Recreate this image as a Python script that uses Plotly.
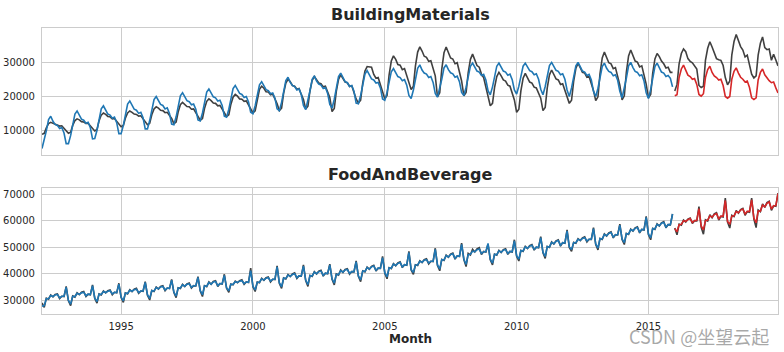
import pandas as pd
import plotly.graph_objects as go

# ---------------- data ----------------
months_train = pd.date_range("1992-01-01", "2015-12-01", freq="MS")
months_test = pd.date_range("2016-01-01", "2019-12-01", freq="MS")

year_ticks = ["1995-01-01", "2000-01-01", "2005-01-01", "2010-01-01", "2015-01-01"]
year_labels = ["1995", "2000", "2005", "2010", "2015"]
bm_yticks = [10000, 20000, 30000]
fb_yticks = [30000, 40000, 50000, 60000, 70000]

# BuildingMaterials: actual (train period)
bm_actual_train = [
    9000, 9300, 10900, 12100, 12500, 12200, 11800, 11700, 11400, 11500, 10800, 10200,
    9300, 9600, 11600, 13000, 13500, 13200, 12700, 12600, 12200, 12200, 11500, 10800,
    10000, 10400, 12900, 14600, 15200, 14800, 14200, 14100, 13500, 13600, 12700, 11800,
    11200, 11600, 13700, 15200, 15800, 15400, 14900, 14800, 14300, 14400, 13600, 12800,
    11800, 12200, 14700, 16400, 17000, 16600, 16000, 15900, 15300, 15400, 14500, 13600,
    12100, 12600, 15500, 17600, 18300, 17800, 17100, 17000, 16300, 16400, 15300, 14300,
    13100, 13600, 16500, 18600, 19300, 18800, 18100, 18000, 17300, 17400, 16300, 15300,
    14200, 14700, 17700, 19800, 20600, 20100, 19300, 19200, 18600, 18700, 17500, 16400,
    15200, 15800, 19500, 22100, 23000, 22400, 21400, 21300, 20500, 20700, 19300, 17900,
    15900, 16600, 20900, 23900, 25000, 24300, 23200, 23000, 22100, 22300, 20600, 19100,
    16400, 17200, 21600, 24700, 25800, 25000, 23900, 23700, 22800, 23000, 21300, 19700,
    15600, 16500, 21500, 25000, 26300, 25400, 24200, 24000, 22900, 23100, 21200, 19300,
    18100, 18900, 23900, 27400, 28700, 28600, 28500, 26400, 25300, 25500, 23600, 21800,
    19300, 20300, 26200, 30300, 31800, 30800, 29300, 29100, 27800, 28100, 25800, 23700,
    22000, 23000, 28800, 32900, 34400, 33200, 31700, 31400, 30200, 30400, 28200, 26000,
    19900, 21100, 27900, 32700, 34400, 32900, 31200, 30900, 29500, 29800, 27200, 24500,
    20200, 21200, 26900, 30800, 32300, 30500, 29000, 28500, 26500, 25500, 22800, 20500,
    17300, 18000, 22600, 25800, 27000, 26000, 24800, 24500, 23300, 23000, 21000, 19000,
    15400, 16300, 21600, 25300, 26700, 25600, 24200, 23900, 22700, 22500, 20700, 19500,
    15900, 16800, 22400, 26300, 27700, 26500, 25100, 24800, 23500, 23700, 21800, 19500,
    18000, 18900, 24400, 28200, 29600, 28400, 27000, 26800, 25600, 25800, 23800, 21700,
    18800, 19900, 26600, 31200, 32900, 31500, 29800, 29500, 28100, 28400, 25900, 23300,
    19000, 20200, 27000, 31800, 33500, 32100, 30300, 30000, 28600, 28900, 26300, 23600,
    19600, 20600, 26700, 30900, 32500, 31600, 30300, 29500, 28300, 28500, 27000, 27000,
]

# BuildingMaterials: fitted values (train period)
bm_fit = [
    4900, 7200, 10000, 13300, 14250, 12800, 11900, 11600, 10700, 11000, 9400, 6300,
    6300, 8700, 11500, 14900, 15800, 14400, 13400, 13100, 12200, 12500, 10900, 7700,
    7800, 10200, 13000, 16400, 17300, 15900, 14900, 14600, 13700, 14000, 12400, 9200,
    9200, 11600, 14400, 17800, 18700, 17300, 16300, 16000, 15100, 15400, 13800, 10600,
    10600, 13000, 15800, 19100, 20000, 18600, 17700, 17400, 16400, 16700, 15100, 12000,
    11800, 14100, 16900, 20200, 21100, 19700, 18800, 18500, 17600, 17800, 16300, 13200,
    12900, 15200, 18000, 21300, 22200, 20800, 19900, 19600, 18700, 18900, 17400, 14300,
    14000, 16300, 19100, 22300, 23200, 21800, 20900, 20600, 19700, 20000, 18400, 15400,
    15000, 17300, 20100, 23400, 24300, 22900, 22000, 21700, 20800, 21000, 19500, 16400,
    15900, 18300, 21200, 24600, 25600, 24100, 23200, 22900, 21900, 22200, 20600, 17400,
    16200, 18700, 21600, 25000, 26000, 24500, 23600, 23300, 22300, 22600, 20900, 17700,
    16600, 19200, 22200, 25800, 26800, 25300, 24300, 24000, 22900, 23200, 21500, 18100,
    17900, 20300, 23200, 26500, 27500, 26100, 25100, 24800, 23900, 24100, 22500, 19300,
    18900, 21200, 24000, 27200, 28100, 26700, 25800, 25500, 24600, 24900, 23300, 20300,
    19400, 21900, 24800, 28200, 29200, 27700, 26800, 26500, 25500, 25800, 24100, 20900,
    19800, 22200, 25000, 28300, 29200, 27800, 26900, 26600, 25600, 25900, 24300, 21200,
    20300, 22700, 25500, 28800, 29700, 28300, 27400, 27100, 26100, 26400, 24800, 21700,
    20500, 22800, 25600, 28800, 29700, 28300, 27400, 27100, 26200, 26500, 24900, 21900,
    20700, 23000, 25700, 28800, 29700, 28400, 27500, 27200, 26300, 26600, 25000, 22100,
    20500, 22900, 25700, 29000, 29900, 28500, 27600, 27300, 26300, 26600, 25000, 21900,
    20000, 22500, 25400, 28900, 29900, 28400, 27400, 27100, 26100, 26400, 24800, 21500,
    20000, 22400, 25300, 28700, 29700, 28200, 27300, 27000, 26000, 26300, 24700, 21500,
    19600, 22200, 25300, 28900, 29900, 28400, 27300, 27000, 26000, 26300, 24500, 21100,
    19400, 22000, 25100, 28700, 29700, 28200, 27100, 26800, 25800, 26100, 25300, 22800,
]

# BuildingMaterials: actual (validation period)
bm_actual_test = [
    21600, 23500, 29500, 32500, 33800, 33000, 31000, 30200, 29800, 28900, 28000, 23200,
    22600, 23000, 30500, 34000, 35900, 34400, 32500, 31000, 30700, 30500, 29000, 25500,
    23400, 24500, 32000, 36000, 38000, 36000, 34500, 33500, 31500, 32000, 29500, 26500,
    25400, 26000, 32000, 35500, 37300, 34200, 33600, 33800, 30500, 32300, 30600, 28900,
]

# BuildingMaterials: forecast (validation period)
bm_pred = [
    20200, 20500, 25500, 28000, 29100, 27700, 26200, 25800, 25000, 25200, 23500, 20600,
    20100, 20800, 25500, 27800, 28800, 27000, 26000, 25500, 24800, 25000, 23200, 20000,
    19500, 20000, 25000, 27300, 28300, 26800, 25600, 25000, 24200, 24500, 22600, 19600,
    19100, 19600, 24800, 27000, 28000, 26300, 25300, 24600, 24000, 24200, 22500, 21000,
]

# FoodAndBeverage: actual (train period)
fb_actual_train = [
    29000, 27300, 30800, 30400, 32000, 31300, 32200, 32400, 30600, 31500, 31400, 35200,
    29800, 28000, 31600, 31200, 32800, 32100, 33000, 33300, 31400, 32300, 32100, 35800,
    30700, 28900, 32400, 32000, 33500, 32800, 33600, 33900, 32100, 33000, 32800, 36400,
    31000, 29200, 32800, 32400, 34000, 33300, 34200, 34500, 32600, 33500, 33400, 37000,
    31900, 30100, 33700, 33300, 35000, 34200, 35200, 35500, 33600, 34600, 34400, 37900,
    32900, 31000, 34700, 34400, 36000, 35200, 36200, 36500, 34600, 35500, 35400, 38900,
    33500, 31400, 35500, 35100, 36900, 36000, 37100, 37400, 35200, 36300, 36100, 39800,
    34500, 33000, 36100, 35800, 37200, 36600, 37400, 37700, 36000, 36900, 36700, 42100,
    35100, 33300, 36900, 36600, 38300, 37500, 38500, 38800, 36900, 37900, 37800, 43000,
    36400, 34500, 38400, 38000, 39700, 38900, 39900, 40300, 38200, 39200, 39100, 43300,
    37400, 35200, 39400, 39000, 40800, 39900, 41000, 41300, 39100, 40200, 40000, 43600,
    37900, 35800, 39900, 39500, 41400, 40500, 41600, 41900, 39800, 40800, 40700, 44800,
    39000, 37000, 41100, 40700, 42500, 41700, 42800, 43200, 41000, 42100, 42000, 46500,
    40200, 38100, 42300, 41900, 43800, 43000, 44100, 44500, 42300, 43400, 43200, 48400,
    41400, 39800, 43400, 43100, 44900, 44200, 45300, 45600, 43700, 44700, 44600, 49600,
    43100, 41100, 45400, 45000, 47000, 46200, 47400, 47800, 45500, 46700, 46500, 51500,
    45300, 42700, 47700, 47100, 49200, 48200, 49400, 49800, 47200, 48400, 48200, 51100,
    45300, 43300, 47400, 47000, 48800, 48000, 49100, 49400, 47300, 48400, 48200, 52800,
    46600, 44800, 48800, 48400, 50300, 49500, 50600, 51000, 48900, 50000, 49800, 54000,
    47900, 45800, 50300, 49900, 52000, 51200, 52400, 52800, 50400, 51700, 51500, 56500,
    49900, 48400, 51800, 51500, 53200, 52500, 53500, 53900, 52000, 53000, 52900, 57400,
    51000, 49000, 53300, 52900, 55000, 54200, 55400, 55800, 53500, 54700, 54600, 58700,
    52900, 51000, 55200, 54800, 56800, 56100, 57300, 57700, 55400, 56700, 56500, 61600,
    54800, 52800, 57100, 56700, 58800, 58000, 59200, 59600, 57300, 58500, 58400, 62500,
]

# FoodAndBeverage: fitted values (train period)
fb_fit = [
    27800, 28000, 30600, 30600, 31800, 31400, 32000, 32200, 30900, 31500, 31500, 34900,
    29900, 28600, 31500, 31400, 32600, 32200, 32800, 33000, 31700, 32300, 32200, 35500,
    30900, 29500, 32300, 32200, 33300, 32900, 33400, 33600, 32400, 33000, 32900, 36100,
    31200, 29800, 32700, 32600, 33800, 33400, 34000, 34200, 32900, 33500, 33500, 36700,
    32100, 30700, 33600, 33500, 34800, 34300, 35000, 35200, 33900, 34600, 34500, 37600,
    33100, 31600, 34600, 34600, 35800, 35300, 36000, 36200, 34900, 35500, 35500, 38600,
    33700, 32100, 35400, 35300, 36700, 36100, 36900, 37100, 35500, 36300, 36200, 39400,
    34700, 33600, 36000, 36000, 37000, 36700, 37200, 37400, 36300, 36900, 36800, 41200,
    35300, 33900, 36800, 36800, 38100, 37600, 38300, 38500, 37200, 37900, 37900, 42600,
    36600, 35100, 38300, 38200, 39500, 39000, 39700, 40000, 38500, 39200, 39200, 42900,
    37600, 35900, 39300, 39200, 40600, 40000, 40800, 41000, 39400, 40200, 40100, 43300,
    38100, 36500, 39800, 39700, 41200, 40600, 41400, 41600, 40100, 40800, 40800, 44500,
    39200, 37700, 41000, 40900, 42300, 41800, 42600, 42900, 41300, 42100, 42100, 46100,
    40400, 38800, 42200, 42100, 43600, 43100, 43900, 44200, 42600, 43400, 43300, 48000,
    41600, 40500, 43300, 43300, 44700, 44300, 45100, 45300, 44000, 44700, 44700, 49200,
    43300, 41800, 45300, 45200, 46800, 46300, 47200, 47500, 45800, 46700, 46600, 51100,
    45500, 43500, 47200, 47300, 48500, 48300, 49000, 49300, 47600, 48300, 48300, 51400,
    45500, 44000, 47300, 47200, 48600, 48100, 48900, 49100, 47600, 48400, 48300, 52400,
    46800, 45500, 48700, 48600, 50100, 49600, 50400, 50700, 49200, 50000, 49900, 53600,
    48100, 46500, 50200, 50100, 51800, 51300, 52200, 52500, 50700, 51700, 51600, 56100,
    50100, 49100, 51700, 51700, 53000, 52600, 53300, 53600, 52300, 53000, 53000, 57000,
    51200, 49700, 53200, 53100, 54800, 54300, 55200, 55500, 53800, 54700, 54700, 58300,
    53100, 51700, 55100, 55000, 56600, 56200, 57100, 57400, 55700, 56700, 56600, 61200,
    55000, 53500, 57000, 56900, 58600, 58100, 59000, 59300, 57600, 58500, 58500, 62500,
]

# FoodAndBeverage: actual (validation period)
fb_actual_test = [
    57200, 54700, 58700, 58300, 60200, 59500, 60600, 61000, 58900, 60000, 59900, 65300,
    57500, 54900, 60300, 59800, 62200, 61100, 62600, 63000, 60200, 61600, 61400, 68500,
    59500, 57200, 62000, 61500, 63800, 62800, 64200, 64600, 62000, 63400, 63200, 68500,
    60600, 57400, 64000, 63400, 66300, 65000, 66800, 67300, 63900, 65600, 65400, 70400,
]

# FoodAndBeverage: forecast (validation period)
fb_pred = [
    57000, 55800, 58500, 58600, 60000, 59700, 60400, 60800, 59300, 60000, 60100, 64500,
    58000, 56500, 60000, 60200, 61800, 61300, 62300, 62700, 60700, 61700, 61700, 67600,
    59700, 58600, 61700, 61800, 63400, 63000, 64000, 64400, 62500, 63500, 63500, 67800,
    61000, 59200, 63600, 63600, 65900, 65200, 66500, 67000, 64400, 65600, 65700, 70200,
]

assert len(bm_actual_train) == len(months_train) == len(bm_fit)
assert len(fb_actual_train) == len(months_train) == len(fb_fit)
assert len(bm_actual_test) == len(months_test) == len(bm_pred)
assert len(fb_actual_test) == len(months_test) == len(fb_pred)

# ---------------- styling ----------------
W, H = 784, 352
DARK = "#404040"
BLUE = "#1f77b4"
RED = "#d62728"
GRID = "#cccccc"
TEXT = "#262626"
FONT = "DejaVu Sans"
LW = 1.6

x0, x1 = 42, 778
top_px = (28, 155)
bot_px = (188, 314)


def ydom(px):
    return [1 - px[1] / H, 1 - px[0] / H]


fig = go.Figure()


def add_line(x, y, color, xa, ya):
    fig.add_trace(go.Scatter(x=x, y=y, mode="lines",
                             line=dict(color=color, width=LW),
                             xaxis=xa, yaxis=ya, showlegend=False,
                             hoverinfo="skip"))


# top panel
add_line(months_train, bm_actual_train, DARK, "x", "y")
add_line(months_train, bm_fit, BLUE, "x", "y")
add_line(months_test, bm_actual_test, DARK, "x", "y")
add_line(months_test, bm_pred, RED, "x", "y")
# bottom panel
add_line(months_train, fb_actual_train, DARK, "x2", "y2")
add_line(months_train, fb_fit, BLUE, "x2", "y2")
add_line(months_test, fb_actual_test, DARK, "x2", "y2")
add_line(months_test, fb_pred, RED, "x2", "y2")

xrange = ["1992-01-01", "2019-12-01"]
common_x = dict(range=xrange, showgrid=True, gridcolor=GRID, gridwidth=1,
                showline=True, linecolor=GRID, linewidth=1.2, mirror=True,
                ticks="", tickvals=year_ticks, ticktext=year_labels,
                tickfont=dict(family=FONT, size=10, color=TEXT),
                zeroline=False, domain=[x0 / W, x1 / W])
common_y = dict(showgrid=True, gridcolor=GRID, gridwidth=1,
                showline=True, linecolor=GRID, linewidth=1.2, mirror=True,
                ticks="", tickfont=dict(family=FONT, size=10, color=TEXT),
                zeroline=False, ticklabelstandoff=4)

fig.update_layout(
    width=W, height=H,
    margin=dict(l=0, r=0, t=0, b=0),
    paper_bgcolor="white", plot_bgcolor="white",
    xaxis=dict(common_x, anchor="y", showticklabels=False, matches="x2"),
    yaxis=dict(common_y, domain=ydom(top_px), range=[3000, 39900],
               tickvals=bm_yticks, ticktext=[str(v) for v in bm_yticks], anchor="x"),
    xaxis2=dict(common_x, anchor="y2", showticklabels=True, ticklabelstandoff=3),
    yaxis2=dict(common_y, domain=ydom(bot_px), range=[24830, 72300],
                tickvals=fb_yticks, ticktext=[str(v) for v in fb_yticks], anchor="x2"),
    annotations=[
        dict(text="<b>BuildingMaterials</b>", x=(x0 + x1) / 2 / W, y=1 - 14 / H,
             xref="paper", yref="paper", showarrow=False,
             xanchor="center", yanchor="middle",
             font=dict(family=FONT, size=16, color=TEXT)),
        dict(text="<b>FoodAndBeverage</b>", x=(x0 + x1) / 2 / W, y=1 - 174 / H,
             xref="paper", yref="paper", showarrow=False,
             xanchor="center", yanchor="middle",
             font=dict(family=FONT, size=16, color=TEXT)),
        dict(text="<b>Month</b>", x=(x0 + x1) / 2 / W, y=1 - 339 / H,
             xref="paper", yref="paper", showarrow=False,
             xanchor="center", yanchor="middle",
             font=dict(family=FONT, size=12, color=TEXT)),
        dict(text="CSDN @坐望云起", x=771 / W, y=1 - 336 / H,
             xref="paper", yref="paper", showarrow=False,
             xanchor="right", yanchor="middle",
             font=dict(family="Noto Sans CJK SC", size=18, color="rgba(140,140,140,0.75)")),
    ],
)

fig.write_html("out.html")
